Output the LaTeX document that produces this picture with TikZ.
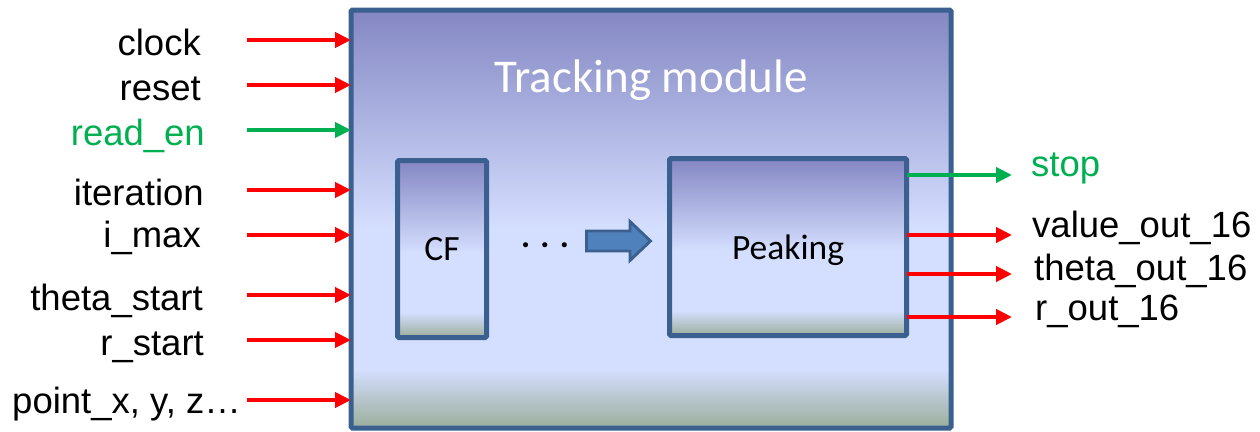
\documentclass[tikz,border=0pt]{standalone}
\usepackage{fontspec}
\setmainfont{Liberation Sans}
\newfontfamily\calibri{Carlito}
\usetikzlibrary{arrows.meta}

\definecolor{gradtop}{HTML}{8487C3}
\definecolor{gradmid}{HTML}{D4DEFE}
\definecolor{gradbot}{HTML}{9BAE9B}
\definecolor{edgeblue}{HTML}{3B5F8F}
\definecolor{sigred}{HTML}{FF0000}
\definecolor{siggreen}{HTML}{00B050}
\definecolor{arrowfill}{HTML}{4F81BD}

% vertical fill of the blocks: violet on top, pale blue in the middle, grey-green at the foot
\pgfdeclareverticalshading{daybreak}{100bp}{%
  color(0bp)=(gradbot); color(25bp)=(gradbot); color(32bp)=(gradmid);
  color(49bp)=(gradmid); color(75bp)=(gradtop); color(100bp)=(gradtop)}

\begin{document}
\begin{tikzpicture}[x=1pt,y=-1pt,
  module/.style={draw=edgeblue, line width=5pt, shade, shading=daybreak,
    outer sep=0pt, inner sep=0pt, rounded corners=1.5pt},
  sig/.style={font=\fontsize{36.5}{40}\selectfont, inner sep=0pt},
  sigarrow/.style={line width=4pt, -{Triangle[length=16pt,width=15pt]}},
  blockfont/.style={font=\calibri\fontsize{35.5}{40}\selectfont}]
\useasboundingbox (0,0) rectangle (1260,431);

% blocks
\node[module, minimum width=600pt, minimum height=418pt] (main) at (651,219) {};
\node[font=\calibri\fontsize{47}{50}\selectfont, text=white, anchor=base, inner sep=0pt]
  (title) at (651,92) {Tracking module};
\node[module, blockfont, minimum width=89pt, minimum height=177pt] (cf) at (442,249) {CF};
\node[module, blockfont, minimum width=237pt, minimum height=177pt, text depth=0pt]
  (peak) at (788,247) {Peaking};
\node[font=\calibri\bfseries\fontsize{34}{36}\selectfont, anchor=base, inner sep=0pt]
  (dots) at (545,247) {. . .};

% block arrow between the stages
\draw[edgeblue, line width=2.8pt, fill=arrowfill, line join=miter]
  (586.5,231) -- (630,231) -- (630,221.5) -- (650.5,241) -- (630,260.5)
  -- (630,251) -- (586.5,251) -- cycle;

% input signals
\node[sig, anchor=base east] (l1) at (201,55) {clock};
\node[sig, anchor=base east] (l2) at (201,100) {reset};
\node[sig, anchor=base east, text=siggreen] (l3) at (205,145) {read\_en};
\node[sig, anchor=base east] (l4) at (204,205) {iteration};
\node[sig, anchor=base east] (l5) at (201,247) {i\_max};
\node[sig, anchor=base east] (l6) at (203,310) {theta\_start};
\node[sig, anchor=base east] (l7) at (204,355) {r\_start};
\node[sig, anchor=base east] (l8) at (241,413) {point\_x, y, z…};

\coordinate (i1) at (247,40);
\coordinate (i2) at (247,85);
\coordinate (i3) at (247,130);
\coordinate (i4) at (247,190);
\coordinate (i5) at (247,235);
\coordinate (i6) at (247,295);
\coordinate (i7) at (247,340);
\coordinate (i8) at (247,400);
\foreach \k in {1,2,4,5,6,7,8}
  \draw[sigarrow, sigred] (i\k) -- (main.west |- i\k);
\draw[sigarrow, siggreen] (i3) -- (main.west |- i3);

% output signals
\node[sig, anchor=base west, text=siggreen] (r0) at (1031,176) {stop};
\node[sig, anchor=base west] (r1) at (1032,237) {value\_out\_16};
\node[sig, anchor=base west] (r2) at (1034,280) {theta\_out\_16};
\node[sig, anchor=base west] (r3) at (1035,320) {r\_out\_16};

\coordinate (o0) at (1012,175);
\coordinate (o1) at (1012,235);
\coordinate (o2) at (1012,274);
\coordinate (o3) at (1012,317);
\draw[sigarrow, siggreen] (peak.east |- o0) -- (o0);
\foreach \k in {1,2,3}
  \draw[sigarrow, sigred] (peak.east |- o\k) -- (o\k);
\end{tikzpicture}
\end{document}
